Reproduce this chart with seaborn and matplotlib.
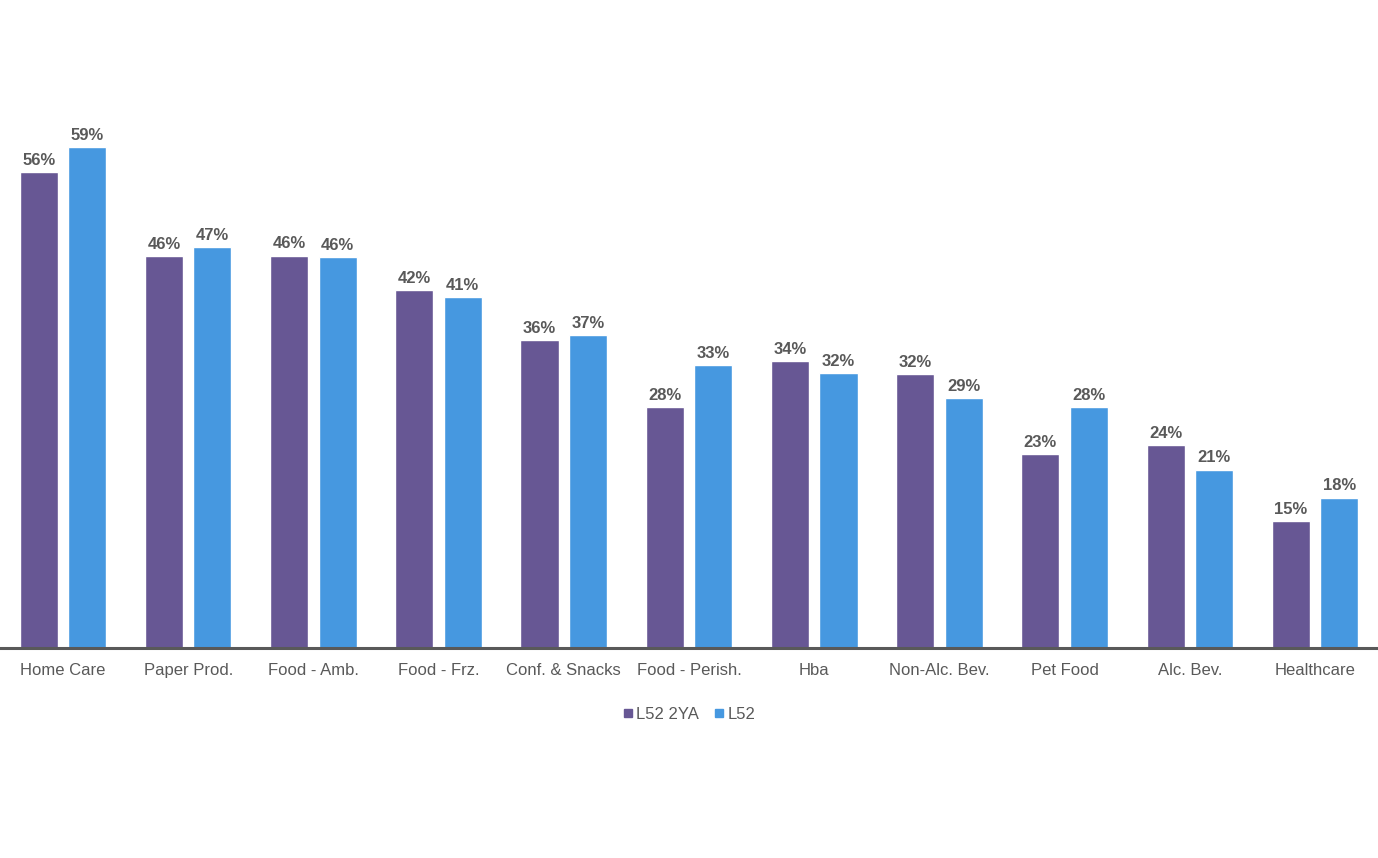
import pandas as pd
import seaborn as sns
import matplotlib.pyplot as plt
from matplotlib.lines import Line2D

categories = ["Home Care", "Paper Prod.", "Food - Amb.", "Food - Frz.", "Conf. & Snacks",
              "Food - Perish.", "Hba", "Non-Alc. Bev.", "Pet Food", "Alc. Bev.", "Healthcare"]
l52_2ya = [56.0, 46.1, 46.2, 42.1, 36.2, 28.4, 33.8, 32.2, 22.8, 23.9, 14.9]
l52 = [59.0, 47.2, 46.0, 41.3, 36.8, 33.3, 32.4, 29.4, 28.4, 21.0, 17.7]
series = ["L52 2YA", "L52"]
colors = ["#675794", "#4698E0"]

df = pd.DataFrame({
    "category": categories * 2,
    "series": [series[0]] * len(categories) + [series[1]] * len(categories),
    "value": l52_2ya + l52,
})

sns.set_style("white")
plt.rcParams['font.family'] = ['Liberation Sans', 'DejaVu Sans']

fig = plt.figure(figsize=(13.78, 8.58), dpi=100)
ax = fig.add_axes([0, 0.2448, 1, 0.693])

sns.barplot(data=df, x="category", y="value", hue="series", palette=colors,
            width=0.775, gap=0.215, ax=ax, legend=False, saturation=1)

for cont in ax.containers:
    ax.bar_label(cont, labels=[f"{v:.0f}%" for v in cont.datavalues], padding=3,
                 fontsize=12, fontweight="bold", color="#595959")

ax.set_xlim(-0.503, 10.503)
ax.set_ylim(0, 70)
ax.set_xlabel("")
ax.set_ylabel("")
ax.set_yticks([])
ax.tick_params(axis="x", labelsize=12, colors="#595959", length=0, pad=11)
for s in ["top", "right", "left"]:
    ax.spines[s].set_visible(False)
ax.spines["bottom"].set_color("#595959")
ax.spines["bottom"].set_linewidth(2.2)

handles = [Line2D([], [], marker="s", linestyle="", color=c, markersize=6) for c in colors]
fig.legend(handles, series, loc="center", bbox_to_anchor=(0.5, 0.167), ncol=2, frameon=False,
           fontsize=12, labelcolor="#595959", handlelength=0.6, handletextpad=0.2,
           columnspacing=0.9)

fig.savefig("out.png", dpi=100)
